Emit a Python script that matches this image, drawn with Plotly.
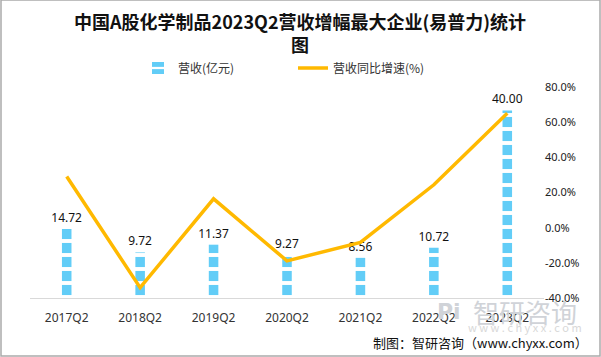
import plotly.graph_objects as go

categories = ["2017Q2", "2018Q2", "2019Q2", "2020Q2", "2021Q2", "2022Q2", "2023Q2"]
revenue = [14.72, 9.72, 11.37, 9.27, 8.56, 10.72, 40.00]
growth = [29.1, -34.1, 16.4, -18.9, -8.4, 24.4, 65.0]
growth_ticks = [-40, -20, 0, 20, 40, 60, 80]

fig = go.Figure()
fig.add_trace(go.Bar(
    x=categories, y=revenue, name="营收(亿元)", width=0.13,
    marker=dict(color="white", line=dict(width=0),
                pattern=dict(shape="-", fgcolor="#62cdf7", bgcolor="white",
                             size=14, solidity=0.72, fillmode="replace")),
    text=[f"{v:.2f}" for v in revenue], textposition="outside", constraintext="none",
    textfont=dict(size=12, color="#111", family="Noto Sans"), cliponaxis=False,
))
fig.add_trace(go.Scatter(
    x=categories, y=growth, name="营收同比增速(%)", yaxis="y2",
    mode="lines", line=dict(color="#FFB900", width=3.5),
))

fig.update_layout(
    width=601, height=357,
    margin=dict(l=30, r=57, t=87, b=59, autoexpand=False),
    paper_bgcolor="white", plot_bgcolor="white",
    font=dict(family="Noto Sans CJK SC, sans-serif", color="#333"),
    showlegend=True,
    legend=dict(orientation="h", xref="container", yref="container",
                x=138/601, xanchor="left", y=1-68/357, yanchor="middle",
                font=dict(size=12, color="#333"), entrywidth=110,
                bgcolor="rgba(0,0,0,0)"),
    xaxis=dict(showline=True, linecolor="#d9d9d9", linewidth=1, ticks="",
               ticklabelstandoff=9,
               tickfont=dict(size=12, color="#333", family="Noto Sans"), showgrid=False),
    yaxis=dict(range=[0, 45], visible=False, showgrid=False),
    yaxis2=dict(range=[-40, 80], overlaying="y", side="right", tickvals=growth_ticks,
                ticktext=[f"{v:.1f}%" for v in growth_ticks], showgrid=False,
                zeroline=False, showline=False,
                tickfont=dict(size=11, color="#222", family="Noto Sans")),
)

# title
fig.add_annotation(text="<b>中国A股化学制品2023Q2营收增幅最大企业(易普力)统计<br>图</b>",
                   xref="paper", yref="paper", x=(300-30)/514, y=(298-32)/211,
                   xanchor="center", yanchor="middle",
                   showarrow=False, align="center",
                   font=dict(size=18, color="#111", family="Noto Sans CJK SC"))

# watermark and credit
fig.add_annotation(text="<b>Pi</b>", xref="paper", yref="paper", x=(449-30)/514, y=-(311-298)/211,
                   xanchor="center", yanchor="middle",
                   showarrow=False, font=dict(size=22, color="#d0d3d8", family="DejaVu Sans"))
fig.add_annotation(text="智研咨询", xref="paper", yref="paper", x=(525-30)/514, y=-(311-298)/211,
                   xanchor="center", yanchor="middle",
                   showarrow=False, font=dict(size=26, color="#d0d3d8"))
fig.add_annotation(text="w w w . c h y x x . c o m", xref="paper", yref="paper", x=(525-30)/514,
                   y=-(327-298)/211, xanchor="center", yanchor="middle", showarrow=False,
                   font=dict(size=11, color="#d8d8d8"))
fig.add_annotation(text="制图：智研咨询（www.chyxx.com）", xref="paper", yref="paper",
                   x=(590-30)/514, xanchor="right", y=-(342-298)/211, yanchor="middle",
                   showarrow=False, font=dict(size=13, color="#111"))
fig.add_shape(type="rect", xref="paper", yref="paper", x0=-29/514, x1=(600-30)/514,
              y0=-(356-298)/211, y1=(298)/211, line=dict(color="#aaaaaa", width=1.5))

fig.write_html("out.html", config={"displayModeBar": False},
               post_script="document.body.style.margin='0';")
